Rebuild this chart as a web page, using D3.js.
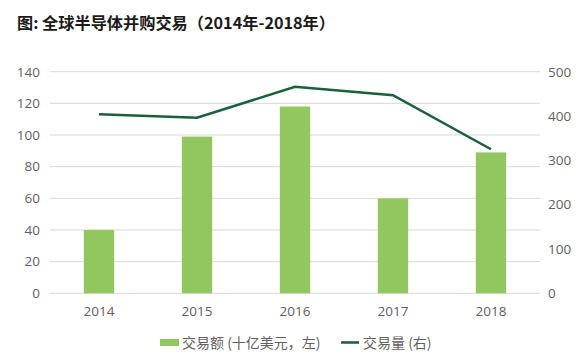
<!DOCTYPE html>
<html>
<head>
<meta charset="utf-8">
<script src="https://cdn.jsdelivr.net/npm/d3@7"></script>
<style>
  body { margin: 0; background: #fff; }
  svg text { font-family: "Open Sans", "Noto Sans CJK SC", sans-serif; }
</style>
</head>
<body>
<svg id="chart" width="585" height="363"></svg>
<script>
const years = ["2014", "2015", "2016", "2017", "2018"];
const dealValue = [40, 99, 118, 60, 89];      // 交易额 (十亿美元, 左)
const dealCount = [404, 396, 466, 447, 325];  // 交易量 (右)
const leftTicks = [0, 20, 40, 60, 80, 100, 120, 140];
const rightTicks = [0, 100, 200, 300, 400, 500];

const barColor = "#92c65f";
const lineColor = "#1a5e3a";
const textColor = "#5f5f5f";

const svg = d3.select("#chart");
const plot = {left: 50, right: 540, top: 71.7, bottom: 293.3};

const x = d3.scaleBand().domain(years).range([plot.left, plot.right]).paddingInner(0.69).paddingOuter(0.345);
const yL = d3.scaleLinear().domain([0, 140]).range([plot.bottom, plot.top]);
const yR = d3.scaleLinear().domain([0, 500]).range([plot.bottom, plot.top]);

// title
svg.append("text").attr("x", 17).attr("y", 29)
    .attr("font-size", 16.2).attr("font-weight", "bold").attr("fill", "#1a1a1a")
    .style("font-family", "'Noto Sans CJK SC', sans-serif")
    .text("图: 全球半导体并购交易（2014年-2018年）");

// gridlines
svg.append("g").selectAll("line").data(leftTicks).enter().append("line")
    .attr("x1", plot.left).attr("x2", plot.right)
    .attr("y1", d => yL(d)).attr("y2", d => yL(d))
    .attr("stroke", "#d9d9d9").attr("stroke-width", 1);

// left axis
const gl = svg.append("g").attr("transform", `translate(${plot.left - 10},0)`)
    .call(d3.axisLeft(yL).tickValues(leftTicks).tickSize(0).tickPadding(0));
// right axis
const gr = svg.append("g").attr("transform", `translate(${plot.right + 8},0)`)
    .call(d3.axisRight(yR).tickValues(rightTicks).tickSize(0).tickPadding(0));
// bottom axis
const gb = svg.append("g").attr("transform", `translate(0,${plot.bottom + 8})`)
    .call(d3.axisBottom(x).tickSize(0).tickPadding(5));
[gl, gr, gb].forEach(g => {
    g.select(".domain").remove();
    g.selectAll("text").attr("font-size", 13.5).attr("fill", textColor)
        .style("font-family", "'Open Sans', sans-serif");
});

// bars
svg.append("g").selectAll("rect").data(years).enter().append("rect")
    .attr("x", d => x(d)).attr("width", x.bandwidth())
    .attr("y", (d, i) => yL(dealValue[i]))
    .attr("height", (d, i) => yL(0) - yL(dealValue[i]))
    .attr("fill", barColor);

// line
const line = d3.line()
    .x((d, i) => x(years[i]) + x.bandwidth() / 2)
    .y(d => yR(d));
svg.append("path").datum(dealCount).attr("d", line)
    .attr("fill", "none").attr("stroke", lineColor).attr("stroke-width", 2.5);

// legend
const lg = svg.append("g");
lg.append("rect").attr("x", 160).attr("y", 339).attr("width", 19).attr("height", 7).attr("fill", barColor);
lg.append("text").attr("x", 182).attr("y", 348).attr("font-size", 14).attr("fill", textColor)
    .style("font-family", "'Noto Sans CJK SC', sans-serif")
    .text("交易额 (十亿美元，左)");
lg.append("line").attr("x1", 341).attr("x2", 359).attr("y1", 342.5).attr("y2", 342.5)
    .attr("stroke", lineColor).attr("stroke-width", 2.5);
lg.append("text").attr("x", 363).attr("y", 348).attr("font-size", 14).attr("fill", textColor)
    .style("font-family", "'Noto Sans CJK SC', sans-serif")
    .text("交易量 (右)");
</script>
</body>
</html>
